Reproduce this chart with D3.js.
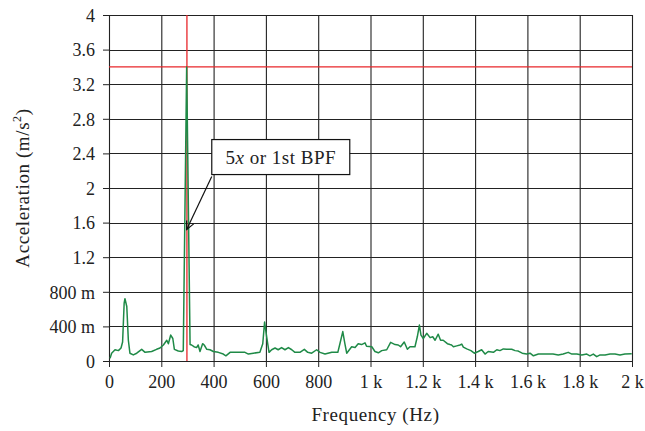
<!DOCTYPE html>
<html><head><meta charset="utf-8">
<script src="https://cdn.jsdelivr.net/npm/d3@7"></script>
<style>body{margin:0;background:#fff;}svg{display:block;font-family:"Liberation Serif","DejaVu Serif",serif;}</style>
</head><body><svg id="c" width="645" height="431"></svg>
<script>
const freq = [4,10,23,36,46,52,58,61,68,74,80,93,106,125,138,163,182,195,208,221,227,236,244,250,265,278,284,297,310,316,325,335,341,348,358,364,374,386,399,418,437,447,463,482,501,520,533,552,577,588,595,603,612,622,635,647,660,673,686,699,711,730,747,760,775,794,807,826,852,875,883,894,902,909,928,941,953,966,979,985,1005,1017,1030,1043,1062,1077,1094,1106,1115,1129,1141,1151,1170,1179,1187,1193,1202,1215,1228,1238,1247,1259,1268,1278,1294,1304,1310,1317,1330,1342,1349,1355,1368,1384,1397,1412,1425,1438,1450,1470,1483,1495,1508,1521,1540,1553,1565,1580,1597,1610,1623,1642,1655,1680,1698,1718,1737,1756,1770,1789,1808,1827,1839,1852,1865,1878,1897,1916,1935,1954,1973,1999];
const accel = [0.03,0.09,0.13,0.12,0.15,0.22,0.67,0.72,0.63,0.24,0.09,0.07,0.09,0.135,0.10,0.11,0.135,0.15,0.185,0.24,0.20,0.30,0.26,0.135,0.115,0.11,0.12,3.40,0.19,0.185,0.165,0.155,0.185,0.11,0.20,0.185,0.135,0.13,0.11,0.10,0.08,0.06,0.10,0.10,0.10,0.10,0.08,0.09,0.10,0.20,0.45,0.28,0.10,0.13,0.15,0.13,0.155,0.13,0.155,0.13,0.10,0.10,0.135,0.10,0.09,0.13,0.10,0.08,0.10,0.10,0.20,0.34,0.20,0.09,0.165,0.155,0.20,0.19,0.21,0.17,0.165,0.11,0.095,0.12,0.13,0.215,0.19,0.185,0.165,0.22,0.135,0.165,0.165,0.28,0.415,0.30,0.26,0.32,0.27,0.28,0.24,0.31,0.24,0.24,0.20,0.19,0.185,0.165,0.175,0.185,0.195,0.16,0.14,0.12,0.09,0.11,0.13,0.08,0.11,0.10,0.13,0.12,0.14,0.135,0.135,0.12,0.115,0.09,0.08,0.09,0.06,0.08,0.08,0.08,0.08,0.07,0.08,0.10,0.08,0.08,0.07,0.08,0.06,0.08,0.05,0.07,0.07,0.08,0.08,0.07,0.08,0.085];
const xTicks = [0,200,400,600,800,1000,1200,1400,1600,1800,2000];
const xTickLabels = ["0","200","400","600","800","1 k","1.2 k","1.4 k","1.6 k","1.8 k","2 k"];
const yTicks = [0,0.4,0.8,1.2,1.6,2,2.4,2.8,3.2,3.6,4];
const yTickLabels = ["0","400 m","800 m","1.2","1.6","2","2.4","2.8","3.2","3.6","4"];
const refLevel = [3.4];
const refFreq = [298];
const annotation = {text1:"5", textItalic:"x", text2:" or 1st BPF", tipF:297, tipV:1.52, boxF:393, boxV:2.56};

const svg = d3.select("#c");
const L=109, R=632, T=15, B=361;
const x = d3.scaleLinear().domain([0,2000]).range([L,R]);
const y = d3.scaleLinear().domain([0,4]).range([B,T]);

// grid
const g = svg.append("g");
g.selectAll(".vg").data(xTicks).enter().append("line")
 .attr("x1",d=>x(d)+0.5).attr("x2",d=>x(d)+0.5).attr("y1",T).attr("y2",B)
 .attr("stroke","#222").attr("stroke-width",1.1);
g.selectAll(".hg").data(yTicks).enter().append("line")
 .attr("y1",d=>Math.round(y(d))+0.5).attr("y2",d=>Math.round(y(d))+0.5).attr("x1",L).attr("x2",R)
 .attr("stroke","#222").attr("stroke-width",1.1);

// axes
const xAxis = d3.axisBottom(x).tickValues(xTicks).tickFormat((d,i)=>xTickLabels[i]).tickSize(6).tickSizeOuter(0).tickPadding(8);
const yAxis = d3.axisLeft(y).tickValues(yTicks).tickFormat((d,i)=>yTickLabels[i]).tickSize(6).tickSizeOuter(0).tickPadding(8);
const xa = svg.append("g").attr("transform",`translate(0,${B})`).call(xAxis);
const ya = svg.append("g").attr("transform",`translate(${L},0)`).call(yAxis);
[xa,ya].forEach(a=>{a.selectAll("text").attr("font-family","Liberation Serif, serif").attr("font-size",18).attr("fill","#222");
 a.selectAll("line,path").attr("stroke","#222");});
ya.selectAll("text").attr("dy","0.35em");

// red reference lines
svg.selectAll(".rh").data(refLevel).enter().append("line")
 .attr("x1",L).attr("x2",R).attr("y1",d=>y(d)).attr("y2",d=>y(d)).attr("stroke","#e8262a").attr("stroke-width",1.3);
svg.selectAll(".rv").data(refFreq).enter().append("line")
 .attr("x1",d=>x(d)).attr("x2",d=>x(d)).attr("y1",T).attr("y2",B).attr("stroke","#e8262a").attr("stroke-width",1.3);

// spectrum line
const pts = freq.map((f,i)=>[f,accel[i]]);
svg.append("path").datum(pts)
 .attr("d",d3.line().x(d=>x(d[0])).y(d=>y(d[1])))
 .attr("fill","none").attr("stroke","#1f8a47").attr("stroke-width",1.5).attr("stroke-linejoin","round");

// annotation
const bx = x(annotation.boxF), by = y(annotation.boxV);
const bw = 138, bh = 35;
const tx = x(annotation.tipF), ty = y(annotation.tipV);
svg.append("line").attr("x1",bx).attr("y1",by+bh+2).attr("x2",tx).attr("y2",ty).attr("stroke","#111").attr("stroke-width",1.2);
const ang = Math.atan2(ty-(by+bh+2), tx-bx);
const ah = 9, aw = 0.45;
svg.append("path").attr("d",`M${tx-ah*Math.cos(ang-aw)},${ty-ah*Math.sin(ang-aw)} L${tx},${ty} L${tx-ah*Math.cos(ang+aw)},${ty-ah*Math.sin(ang+aw)}`)
 .attr("fill","none").attr("stroke","#111").attr("stroke-width",1.2);
svg.append("rect").attr("x",bx).attr("y",by).attr("width",bw).attr("height",bh)
 .attr("fill","#fff").attr("stroke","#111").attr("stroke-width",1.2);
const t = svg.append("text").attr("x",bx+bw/2).attr("y",by+bh/2).attr("dy","0.35em").attr("text-anchor","middle")
 .attr("font-size",19).attr("letter-spacing",0.5).attr("fill","#222");
t.append("tspan").text(annotation.text1);
t.append("tspan").attr("font-style","italic").text(annotation.textItalic);
t.append("tspan").text(annotation.text2);

// axis titles
svg.append("text").attr("x",(L+R)/2+5).attr("y",421).attr("text-anchor","middle").attr("font-size",19).attr("letter-spacing",0.6).attr("fill","#222").text("Frequency (Hz)");
const yt = svg.append("text").attr("transform",`translate(29,${(T+B)/2}) rotate(-90)`).attr("text-anchor","middle").attr("font-size",19).attr("letter-spacing",0.6).attr("fill","#222");
yt.append("tspan").text("Acceleration (m/s");
yt.append("tspan").attr("font-size",12).attr("dy",-8).text("2");
yt.append("tspan").attr("dy",8).text(")");
</script></body></html>
